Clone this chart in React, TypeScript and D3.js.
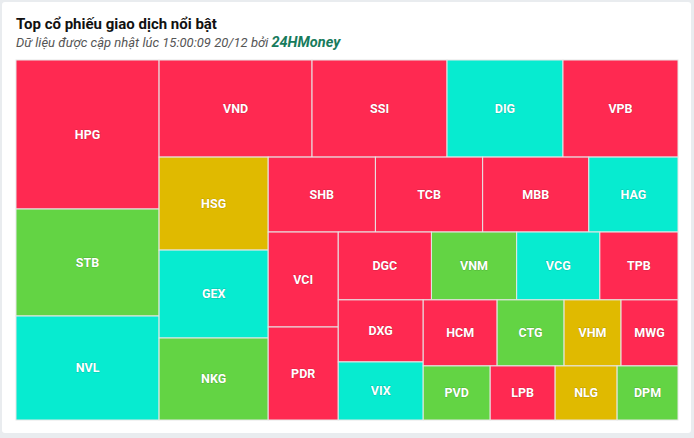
import React from "react";
import * as d3 from "d3";

const tickers = ["HPG", "STB", "NVL", "VND", "SSI", "DIG", "VPB", "HSG", "GEX", "NKG", "SHB", "TCB", "MBB", "HAG", "VCI", "PDR", "DGC", "VNM", "VCG", "TPB", "DXG", "VIX", "HCM", "CTG", "VHM", "MWG", "PVD", "LPB", "NLG", "DPM"];
// trading value (bn VND), read from tile areas
const values = [2131, 1530, 1487, 1484, 1310, 1125, 1116, 1014, 959, 894, 803, 803, 795, 668, 665, 651, 632, 578, 564, 530, 527, 493, 488, 442, 376, 376, 362, 351, 335, 329];
const status = ["down", "up", "floor", "down", "down", "floor", "down", "ref", "floor", "up", "down", "down", "down", "floor", "down", "down", "down", "up", "floor", "down", "down", "floor", "down", "up", "ref", "down", "up", "down", "ref", "up"];

const colors: Record<string, string> = {
  down: "#ff2951",
  up: "#63d444",
  floor: "#07ebd0",
  ref: "#e0ba00",
};

const W = 694;
const H = 438;
const left = 16, top = 60, right = 678, bottom = 420;

// low aspect ratio tiling with alternating direction (column first)
function tileAlternate(parent: any, x0: number, y0: number, x1: number, y1: number) {
  const nodes = parent.children;
  const totalArea = (x1 - x0) * (y1 - y0);
  const areaOf = (n: any) => (n.value / parent.value) * totalArea;
  const ratio = (a: number, b: number) => Math.max(a / b, b / a);
  let w = x1 - x0, h = y1 - y0, px = x0, py = y0;
  let dir = 0;
  let group: any[] = [];

  const place = (items: any[]) => {
    const sum = d3.sum(items, areaOf);
    if (dir === 0) {
      const gw = sum / h;
      let y = py;
      items.forEach((n) => {
        const nh = areaOf(n) / gw;
        n.x0 = px; n.x1 = px + gw; n.y0 = y; n.y1 = y + nh;
        y += nh;
      });
      px += gw; w -= gw;
    } else {
      const gh = sum / w;
      let x = px;
      items.forEach((n) => {
        const nw = areaOf(n) / gh;
        n.x0 = x; n.x1 = x + nw; n.y0 = py; n.y1 = py + gh;
        x += nw;
      });
      py += gh; h -= gh;
    }
    dir = 1 - dir;
  };

  nodes.forEach((n: any) => {
    if (group.length) {
      const last = group[group.length - 1];
      const side = dir === 0 ? h : w;
      const s0 = d3.sum(group, areaOf);
      const s1 = s0 + areaOf(n);
      const before = ratio(s0 / side, areaOf(last) / (s0 / side));
      const after = ratio(s1 / side, areaOf(last) / (s1 / side));
      if (after > before) {
        place(group);
        group = [];
      }
    }
    group.push(n);
  });
  if (group.length) place(group);
}

export default function App() {
  const data = tickers.map((t, i) => ({ name: t, value: values[i], status: status[i] }));
  const root = d3
    .hierarchy<any>({ children: data })
    .sum((d: any) => d.value || 0)
    .sort((a, b) => (b.value || 0) - (a.value || 0));

  d3.treemap<any>()
    .size([right - left, bottom - top])
    .tile(tileAlternate as any)(root);

  const leaves = root.leaves() as any[];

  return (
    <svg width={W} height={H} style={{ position: "absolute", left: 0, top: 0, display: "block" }}>
      <rect x={0} y={0} width={W} height={H} fill="#e9ecef" />
      <rect x={2} y={2} width={689} height={431} rx={3} fill="#ffffff" />
      <text x={16} y={29} fontFamily="Roboto, sans-serif" fontWeight="bold" fontSize={15} fill="#111">
        Top cổ phiếu giao dịch nổi bật
      </text>
      <text x={16} y={47} fontFamily="Roboto, sans-serif" fontStyle="italic" fontSize={13} fill="#555">
        Dữ liệu được cập nhật lúc 15:00:09 20/12 bởi{" "}
        <tspan fontWeight="bold" fontSize={14.5} fill="#177b5c">24HMoney</tspan>
      </text>
      <g transform={`translate(${left},${top})`}>
        {leaves.map((d) => (
          <g key={d.data.name}>
            <rect
              x={d.x0}
              y={d.y0}
              width={d.x1 - d.x0}
              height={d.y1 - d.y0}
              fill={colors[d.data.status]}
              stroke="#e6e6e6"
              strokeWidth={1}
            />
            <text
              x={(d.x0 + d.x1) / 2}
              y={(d.y0 + d.y1) / 2}
              dy="0.35em"
              textAnchor="middle"
              fontFamily="Roboto, sans-serif"
              fontWeight="bold"
              fontSize={12.5}
              fill="#ffffff"
              stroke="rgba(0,0,0,0.18)"
              strokeWidth={1}
              paintOrder="stroke"
            >
              {d.data.name}
            </text>
          </g>
        ))}
      </g>
    </svg>
  );
}
